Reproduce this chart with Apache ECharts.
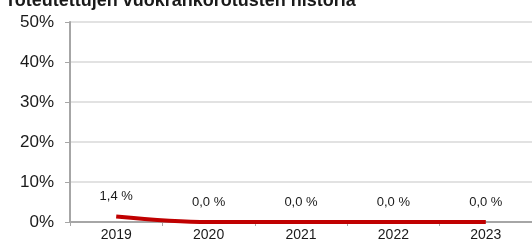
<!DOCTYPE html>
<html><head><meta charset="utf-8">
<script src="https://cdn.jsdelivr.net/npm/echarts@6/dist/echarts.min.js"></script>
<style>html,body{margin:0;padding:0;background:#fff}#c{width:532px;height:248px}</style>
</head><body><div id="c"></div>
<script>
const titleText = "Toteutettujen vuokrankorotusten historia";
const categories = ["2019", "2020", "2021", "2022", "2023"];
const values = [1.4, 0.0, 0.0, 0.0, 0.0];
const yTicks = [0, 10, 20, 30, 40, 50];

const chart = echarts.init(document.getElementById('c'), null, {renderer: 'canvas'});
chart.setOption({
  animation: false,
  title: {
    text: titleText, left: 0, top: -13,
    textStyle: {fontFamily: 'Liberation Sans', fontWeight: 'bold', fontSize: 18, color: '#1a1a1a'}
  },
  grid: {left: 70, right: -3, top: 22, bottom: 26, containLabel: false},
  xAxis: {
    type: 'category', data: categories, boundaryGap: true,
    axisLine: {lineStyle: {color: '#a6a6a6', width: 2}},
    axisTick: {show: true, alignWithLabel: false, length: 4, lineStyle: {color: '#a6a6a6'}},
    axisLabel: {color: '#1a1a1a', fontFamily: 'Liberation Sans', fontSize: 14, margin: 6}
  },
  yAxis: {
    type: 'value', min: yTicks[0], max: yTicks[yTicks.length - 1], interval: 10,
    axisLine: {show: true, lineStyle: {color: '#a6a6a6', width: 2}},
    axisTick: {show: true, length: 5, lineStyle: {color: '#a6a6a6'}},
    splitLine: {lineStyle: {color: '#d9d9d9', width: 1.5}},
    axisLabel: {color: '#1a1a1a', fontFamily: 'Liberation Sans', fontSize: 17, margin: 16,
      formatter: v => v + '%'}
  },
  series: [{
    type: 'line', data: values, smooth: 0.35, symbol: 'circle', symbolSize: 2,
    showSymbol: true,
    itemStyle: {color: 'rgba(192,0,0,0)', borderWidth: 0},
    lineStyle: {color: '#c00000', width: 4},
    label: {show: true, position: 'top', distance: 12, color: '#1a1a1a',
      fontFamily: 'Liberation Sans', fontSize: 13,
      formatter: p => p.value.toFixed(1).replace('.', ',') + ' %'}
  }]
});
</script></body></html>
